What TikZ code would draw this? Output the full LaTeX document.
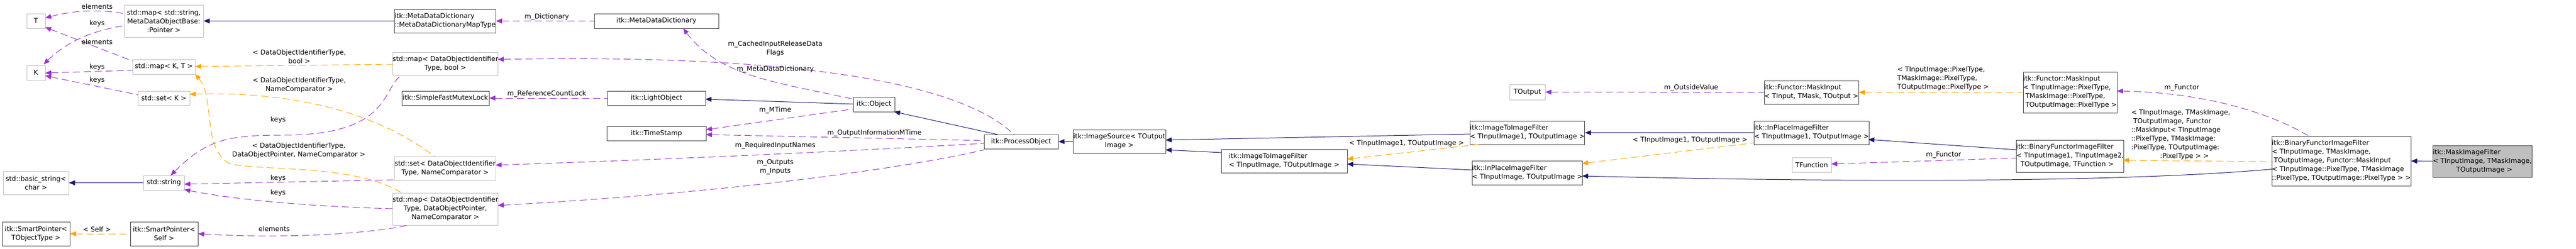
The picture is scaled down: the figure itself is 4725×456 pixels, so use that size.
\documentclass[tikz,border=0pt]{standalone}
\usepackage{fontspec}
\setmainfont{DejaVu Sans}
\usetikzlibrary{arrows.meta}
\definecolor{navy}{HTML}{191970}
\definecolor{purp}{HTML}{9A32CD}
\definecolor{orng}{HTML}{FFA500}
\definecolor{gbord}{HTML}{BFBFBF}
\definecolor{bbord}{HTML}{404040}
\begin{document}
\begin{tikzpicture}[x=1pt,y=-1pt,
  font=\fontsize{12.3}{16}\selectfont,
  nb/.style={draw=bbord,line width=1pt,fill=white,inner sep=0pt,align=center},
  gb/.style={nb,draw=gbord},
  inh/.style={navy,line width=1pt,{Triangle[length=11pt,width=9pt]}-},
  usee/.style={purp,line width=1pt,dash pattern=on 13pt off 7pt,{Triangle[length=11pt,width=9pt]}-},
  real/.style={orng,line width=1pt,dash pattern=on 13pt off 7pt,{Triangle[length=11pt,width=9pt]}-},
  lbl/.style={inner sep=0pt,align=center}]
\useasboundingbox (0,0) rectangle (4725,456);
% nodes
\node[gb,minimum width=34,minimum height=27] (T) at (66,38.5) {T};
\node[gb,minimum width=34,minimum height=27] (K) at (66,133.5) {K};
\node[gb,minimum width=145,minimum height=59] (mapstr) at (300.5,38.5) {std::map\textless{} std::string,\\ MetaDataObjectBase:\\:Pointer \textgreater{}};
\node[gb,minimum width=115,minimum height=27] (mapKT) at (300.5,122.5) {std::map\textless{} K, T \textgreater{}};
\node[gb,minimum width=95,minimum height=26] (setK) at (300.5,180) {std::set\textless{} K \textgreater{}};
\node[gb,minimum width=120,minimum height=43] (bstr) at (66,335.5) {std::basic\_string\textless{}\\char \textgreater{}};
\node[gb,minimum width=75,minimum height=27] (str) at (300.5,335.5) {std::string};
\node[nb,minimum width=124,minimum height=44] (spT) at (66,429) {itk::SmartPointer\textless{}\\TObjectType \textgreater{}};
\node[nb,minimum width=124,minimum height=44] (spS) at (301,429) {itk::SmartPointer\textless{}\\Self \textgreater{}};
\node[nb,minimum width=185,minimum height=43,align=left] (mddmt) at (816.5,38.5) {itk::MetaDataDictionary\\::MetaDataDictionaryMapType};
\node[gb,minimum width=192,minimum height=42] (mapbool) at (817,117) {std::map\textless{} DataObjectIdentifier\\Type, bool \textgreater{}};
\node[nb,minimum width=160,minimum height=26] (mutex) at (817,180) {itk::SimpleFastMutexLock};
\node[gb,minimum width=185,minimum height=44] (setN) at (816.5,309) {std::set\textless{} DataObjectIdentifier\\Type, NameComparator \textgreater{}};
\node[gb,minimum width=192,minimum height=59] (mapP) at (817,383.5) {std::map\textless{} DataObjectIdentifier\\Type, DataObjectPointer,\\NameComparator \textgreater{}};
\node[nb,minimum width=228,minimum height=27] (mdd) at (1204,38.5) {itk::MetaDataDictionary};
\node[nb,minimum width=180,minimum height=26] (light) at (1204,180) {itk::LightObject};
\node[nb,minimum width=182,minimum height=26] (ts) at (1204,245) {itk::TimeStamp};
\node[nb,minimum width=76,minimum height=27] (obj) at (1603,191.5) {itk::Object};
\node[nb,minimum width=136,minimum height=26] (po) at (1873,260) {itk::ProcessObject};
\node[nb,minimum width=170,minimum height=43] (isrc) at (2053,259.5) {itk::ImageSource\textless{} TOutput\\Image \textgreater{}};
\node[nb,minimum width=231,minimum height=43,align=left] (i2i) at (2355.5,295.5) {itk::ImageToImageFilter\\\textless{} TInputImage, TOutputImage \textgreater{}};
\node[gb,minimum width=65,minimum height=28] (tout) at (2801.5,169) {TOutput};
\node[nb,minimum width=209,minimum height=43,align=left] (i2i1) at (2801.5,243.5) {itk::ImageToImageFilter\\\textless{} TInputImage1, TOutputImage \textgreater{}};
\node[nb,minimum width=201,minimum height=44,align=left] (ip) at (2801.5,317) {itk::InPlaceImageFilter\\\textless{} TInputImage, TOutputImage \textgreater{}};
\node[nb,minimum width=173,minimum height=43,align=left] (mi) at (3322.5,169.5) {itk::Functor::MaskInput\\\textless{} TInput, TMask, TOutput \textgreater{}};
\node[nb,minimum width=208,minimum height=43,align=left] (ip1) at (3323,243.5) {itk::InPlaceImageFilter\\\textless{} TInputImage1, TOutputImage \textgreater{}};
\node[gb,minimum width=72,minimum height=27] (tf) at (3323,302.5) {TFunction};
\node[nb,minimum width=172,minimum height=75,align=left] (mip) at (3797,169.5) {itk::Functor::MaskInput\\\textless{} TInputImage::PixelType,\\\ TMaskImage::PixelType,\\\ TOutputImage::PixelType \textgreater{}};
\node[nb,minimum width=194,minimum height=59,align=left] (bf1) at (3797,286.5) {itk::BinaryFunctorImageFilter\\\textless{} TInputImage1, TInputImage2,\\\ \ TOutputImage, TFunction \textgreater{}};
\node[nb,minimum width=245,minimum height=91,align=left] (bfb) at (4294.5,295.5) {itk::BinaryFunctorImageFilter\\\textless{} TInputImage, TMaskImage,\\\ TOutputImage, Functor::MaskInput\\\textless{} TInputImage::PixelType, TMaskImage\\::PixelType, TOutputImage::PixelType \textgreater{} \textgreater{}};
\node[nb,fill=gbord,minimum width=182,minimum height=58,align=left] (mask) at (4553,296) {itk::MaskImageFilter\\\textless{} TInputImage, TMaskImage,\\\hspace*{3.5em}TOutputImage \textgreater{}};
% edges
\draw[inh] (mapstr.east) -- (mddmt.west);
\draw[usee] (mddmt.east) -- (mdd.west);
\draw[usee] (1253,52) .. controls (1320,140) and (1420,150) .. (1565,182);
\draw[usee] (913,109) .. controls (1400,100) and (1750,140) .. (1860,247);
\draw[usee] (mutex.east) -- (light.west);
\draw[inh] (1294,182) -- (1565,191);
\draw[usee] (1295,238) -- (1565,200);
\draw[usee] (1295,247) -- (1805,258);
\draw[usee] (909,303) .. controls (1300,290) and (1600,275) .. (1805,263);
\draw[usee] (913,377) .. controls (1400,350) and (1700,300) .. (1805,275);
\draw[inh] (1640,205) -- (1830,247);
\draw[inh] (po.east) -- (isrc.west);
\draw[inh] (2138,257) -- (2697,246);
\draw[inh] (2138,275) -- (2240,280);
\draw[inh] (2471,301) -- (2701,312);
\draw[real] (2471,292) -- (2713,265);
\draw[inh] (i2i1.east) -- (ip1.west);
\draw[real] (2902,300) -- (3219,262);
\draw[inh] (3427,256) -- (3700,275);
\draw[usee] (3359,301) -- (3700,290);
\draw[usee] (tout.east) -- (mi.west);
\draw[real] (mi.east) -- (mip.west);
\draw[usee] (3883,167) .. controls (4050,170) and (4170,210) .. (4235,250);
\draw[real] (3894,294) -- (4172,297);
\draw[inh] (2902,323) .. controls (3400,335) and (3900,335) .. (4172,310);
\draw[inh] (bfb.east) -- (mask.west);
\draw[usee] (83,33) .. controls (150,15) and (200,20) .. (228,25);
\draw[usee] (80,118) .. controls (130,70) and (180,55) .. (228,47);
\draw[usee] (83,50) -- (243,112);
\draw[usee] (83,134) -- (243,129);
\draw[usee] (83,139) -- (253,174);
\draw[real] (358,122) -- (721,118);
\draw[real] (358,136) .. controls (395,180) and (370,270) .. (420,300) .. controls (480,315) and (650,300) .. (737,354);
\draw[real] (348,173) .. controls (450,170) and (650,175) .. (797,287);
\draw[usee] (313,322) .. controls (380,255) and (420,248) .. (520,248) .. controls (720,248) and (700,160) .. (737,138);
\draw[usee] (338,338) -- (724,330);
\draw[usee] (338,348) .. controls (450,370) and (600,380) .. (721,383);
\draw[usee] (spS.east) .. controls (550,440) and (700,425) .. (750,413);
\draw[inh] (bstr.east) -- (str.west);
\draw[real] (spT.east) -- (spS.west);
% labels
\node[lbl] (l1) at (178,12) {elements};
\node[lbl] (l2) at (178,43) {keys};
\node[lbl] (l3) at (178,77) {elements};
\node[lbl] (l4) at (178,123) {keys};
\node[lbl] (l5) at (178,147) {keys};
\node[lbl] (l6) at (549,104) {\textless{} DataObjectIdentifierType,\\bool \textgreater{}};
\node[lbl] (l7) at (549,156) {\textless{} DataObjectIdentifierType,\\NameComparator \textgreater{}};
\node[lbl] (l8) at (510,220) {keys};
\node[lbl] (l9) at (548,276) {\textless{} DataObjectIdentifierType,\\DataObjectPointer, NameComparator \textgreater{}};
\node[lbl] (l10) at (510,327) {keys};
\node[lbl] (l11) at (510,354) {keys};
\node[lbl] (l12) at (503,420) {elements};
\node[lbl] (l13) at (178,421) {\textless{} Self \textgreater{}};
\node[lbl] (l14) at (1003,31) {m\_Dictionary};
\node[lbl] (l15) at (1003,172) {m\_ReferenceCountLock};
\node[lbl] (l16) at (1422,89) {m\_CachedInputReleaseData\\Flags};
\node[lbl] (l17) at (1422,127) {m\_MetaDataDictionary};
\node[lbl] (l18) at (1422,202) {m\_MTime};
\node[lbl] (l19) at (1604,244) {m\_OutputInformationMTime};
\node[lbl] (l20) at (1422,267) {m\_RequiredInputNames};
\node[lbl] (l21) at (1422,306) {m\_Outputs\\m\_Inputs};
\node[lbl] (l22) at (2580,263) {\textless{} TInputImage1, TOutputImage \textgreater{}};
\node[lbl] (l23) at (3102,161) {m\_OutsideValue};
\node[lbl] (l24) at (3100,257) {\textless{} TInputImage1, TOutputImage \textgreater{}};
\node[lbl,align=left] (l25) at (3564,144) {\textless{} TInputImage::PixelType,\\TMaskImage::PixelType,\\TOutputImage::PixelType \textgreater{}};
\node[lbl] (l26) at (4002,161) {m\_Functor};
\node[lbl] (l27) at (3565,284) {m\_Functor};
\node[lbl,align=left] (l28) at (4000,247) {\textless{} TInputImage, TMaskImage,\\\ TOutputImage, Functor\\::MaskInput\textless{} TInputImage\\::PixelType, TMaskImage:\\:PixelType, TOutputImage:\\\hspace*{4.3em}:PixelType \textgreater{} \textgreater{}};
\end{tikzpicture}
\end{document}
